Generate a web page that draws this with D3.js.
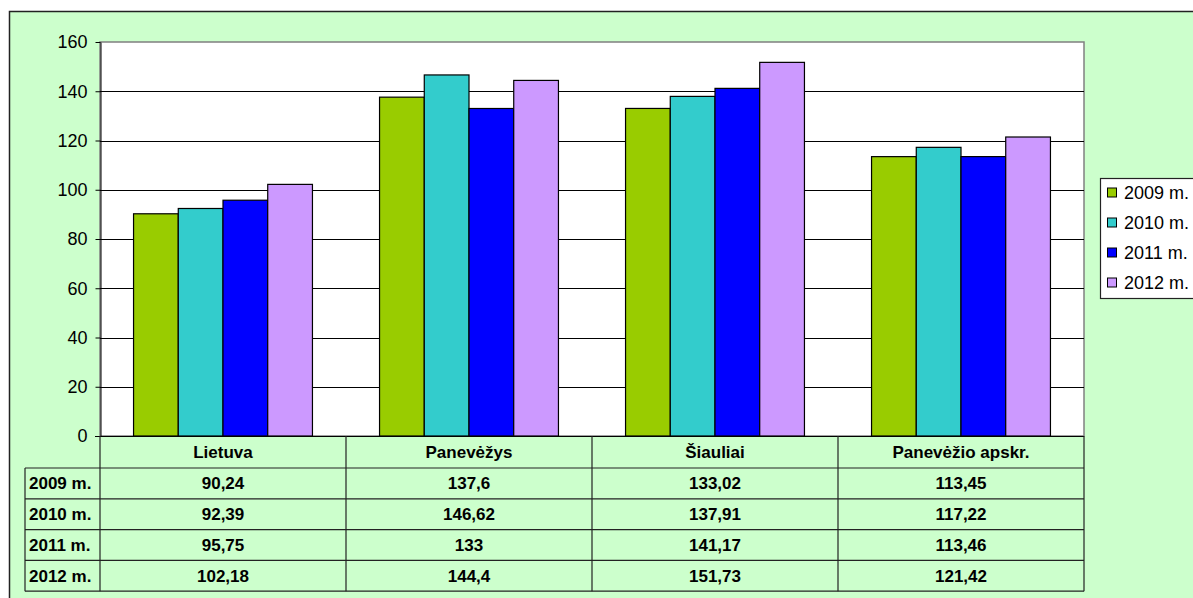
<!DOCTYPE html>
<html>
<head>
<meta charset="utf-8">
<script src="https://cdn.jsdelivr.net/npm/d3@7"></script>
<style>
  body { margin: 0; background: #fff; }
  text { font-family: "Liberation Sans", Arial, sans-serif; fill: #000; }
</style>
</head>
<body>
<div id="chart"></div>
<script>
// chart data
var categories = ["Lietuva", "Panevėžys", "Šiauliai", "Panevėžio apskr."];
var years = ["2009 m.", "2010 m.", "2011 m.", "2012 m."];
var values2009 = [90.24, 137.6, 133.02, 113.45];
var values2010 = [92.39, 146.62, 137.91, 117.22];
var values2011 = [95.75, 133, 141.17, 113.46];
var values2012 = [102.18, 144.4, 151.73, 121.42];
var valueLabels = [
	["90,24", "137,6", "133,02", "113,45"],
	["92,39", "146,62", "137,91", "117,22"],
	["95,75", "133", "141,17", "113,46"],
	["102,18", "144,4", "151,73", "121,42"]
];
var yTicks = [0, 20, 40, 60, 80, 100, 120, 140, 160];
var colors = ["#99CC00", "#33CCCC", "#0000FF", "#CC99FF"];

var series = [values2009, values2010, values2011, values2012];

// build rows per category
var data = categories.map(function(c, i) {
	return { cat: c, vals: years.map(function(y, j) { return { year: y, v: series[j][i] }; }) };
});

var W = 1193, H = 598;
var svg = d3.select("#chart").append("svg")
	.attr("width", W).attr("height", H);

// outer frame
svg.append("rect")
	.attr("x", 9.5).attr("y", 11.5)
	.attr("width", 1200).attr("height", 600)
	.attr("fill", "#CCFFCC").attr("stroke", "#222").attr("stroke-width", 1.5);

var plot = {left: 100, top: 42, right: 1084, bottom: 436};

var x0 = d3.scaleBand()
	.domain(categories)
	.range([plot.left, plot.right])
	.padding(0);

var x1 = d3.scaleBand()
	.domain(years)
	.range([0, x0.bandwidth()])
	.paddingInner(0)
	.paddingOuter(0.75);

var y = d3.scaleLinear()
	.domain([0, 160])
	.range([plot.bottom, plot.top]);

// plot background
svg.append("rect")
	.attr("x", plot.left).attr("y", plot.top)
	.attr("width", plot.right - plot.left).attr("height", plot.bottom - plot.top)
	.attr("fill", "#fff").attr("stroke", "#808080").attr("stroke-width", 1.5);

// gridlines
svg.append("g").selectAll("line")
	.data(yTicks.filter(function(t) { return t > 0 && t < 160; }))
	.join("line")
	.attr("x1", plot.left).attr("x2", plot.right)
	.attr("y1", function(d) { return Math.round(y(d)) + 0.5; })
	.attr("y2", function(d) { return Math.round(y(d)) + 0.5; })
	.attr("stroke", "#000").attr("stroke-width", 1);

// y axis
var yAxis = svg.append("g")
	.attr("transform", "translate(" + (plot.left + 0.5) + ",0)")
	.call(d3.axisLeft(y).tickValues(yTicks).tickSize(5).tickPadding(8).tickSizeOuter(0));
yAxis.select(".domain").attr("stroke", "#000");
yAxis.selectAll(".tick line").attr("stroke", "#000");
yAxis.selectAll("text")
	.style("font-family", "'Liberation Sans', Arial, sans-serif")
	.style("font-size", "18px").attr("fill", "#000");

// bars
svg.append("g")
	.selectAll("g")
	.data(data)
	.join("g")
	.attr("transform", function(d) { return "translate(" + x0(d.cat) + ",0)"; })
	.selectAll("rect")
	.data(function(d) { return d.vals; })
	.join("rect")
	.attr("x", function(d) { return x1(d.year); })
	.attr("y", function(d) { return y(d.v); })
	.attr("width", x1.bandwidth())
	.attr("height", function(d) { return y(0) - y(d.v); })
	.attr("fill", function(d, i) { return colors[i]; })
	.attr("stroke", "#000").attr("stroke-width", 1.2);

// baseline
svg.append("line")
	.attr("x1", plot.left - 5).attr("x2", plot.right)
	.attr("y1", plot.bottom + 0.5).attr("y2", plot.bottom + 0.5)
	.attr("stroke", "#000");

// data table
var headerH = 32, rowH = 30.8, labelLeft = 25;
var tbl = svg.append("g").attr("class", "table");
var tableBottom = plot.bottom + headerH + rowH * years.length;

// horizontal lines
tbl.selectAll("line.h")
	.data(d3.range(years.length + 1))
	.join("line")
	.attr("class", "h")
	.attr("x1", labelLeft).attr("x2", plot.right)
	.attr("y1", function(i) { return plot.bottom + headerH + i * rowH; })
	.attr("y2", function(i) { return plot.bottom + headerH + i * rowH; })
	.attr("stroke", "#222").attr("stroke-width", 1.2);

// vertical lines for columns
tbl.selectAll("line.v")
	.data(categories.map(function(c) { return x0(c); }).concat([plot.right]))
	.join("line")
	.attr("class", "v")
	.attr("x1", function(d) { return d; }).attr("x2", function(d) { return d; })
	.attr("y1", plot.bottom).attr("y2", tableBottom)
	.attr("stroke", "#222").attr("stroke-width", 1.2);

tbl.append("line")
	.attr("x1", labelLeft).attr("x2", labelLeft)
	.attr("y1", plot.bottom + headerH).attr("y2", tableBottom)
	.attr("stroke", "#222").attr("stroke-width", 1.2);

// header labels
tbl.selectAll("text.head")
	.data(categories)
	.join("text")
	.attr("class", "head")
	.attr("x", function(d) { return x0(d) + x0.bandwidth() / 2; })
	.attr("y", plot.bottom + headerH / 2)
	.attr("dy", "0.35em")
	.attr("text-anchor", "middle")
	.style("font-size", "17px").style("font-weight", "bold")
	.text(function(d) { return d; });

// row labels
tbl.selectAll("text.rowlab")
	.data(years)
	.join("text")
	.attr("class", "rowlab")
	.attr("x", labelLeft + 4)
	.attr("y", function(d, i) { return plot.bottom + headerH + i * rowH + rowH / 2; })
	.attr("dy", "0.35em")
	.style("font-size", "17px").style("font-weight", "bold")
	.text(function(d) { return d; });

// cell values
valueLabels.forEach(function(row, i) {
	tbl.selectAll("text.cell" + i)
		.data(row)
		.join("text")
		.attr("x", function(d, j) { return x0(categories[j]) + x0.bandwidth() / 2; })
		.attr("y", plot.bottom + headerH + i * rowH + rowH / 2)
		.attr("dy", "0.35em")
		.attr("text-anchor", "middle")
		.style("font-size", "17px").style("font-weight", "bold")
		.text(function(d) { return d; });
});

// legend
var legend = svg.append("g");
legend.append("rect")
	.attr("x", 1100.5).attr("y", 178.5)
	.attr("width", 120).attr("height", 120)
	.attr("fill", "#fff").attr("stroke", "#222").attr("stroke-width", 1.2);

var ly = d3.scalePoint().domain(years).range([193, 283]);
legend.selectAll("rect.sw")
	.data(years)
	.join("rect")
	.attr("class", "sw")
	.attr("x", 1107.5)
	.attr("y", function(d) { return ly(d) - 5; })
	.attr("width", 9).attr("height", 9)
	.attr("fill", function(d, i) { return colors[i]; })
	.attr("stroke", "#000");
legend.selectAll("text")
	.data(years)
	.join("text")
	.attr("x", 1124)
	.attr("y", function(d) { return ly(d); })
	.attr("dy", "0.35em")
	.style("font-size", "18px")
	.text(function(d) { return d; });
</script>
</body>
</html>
